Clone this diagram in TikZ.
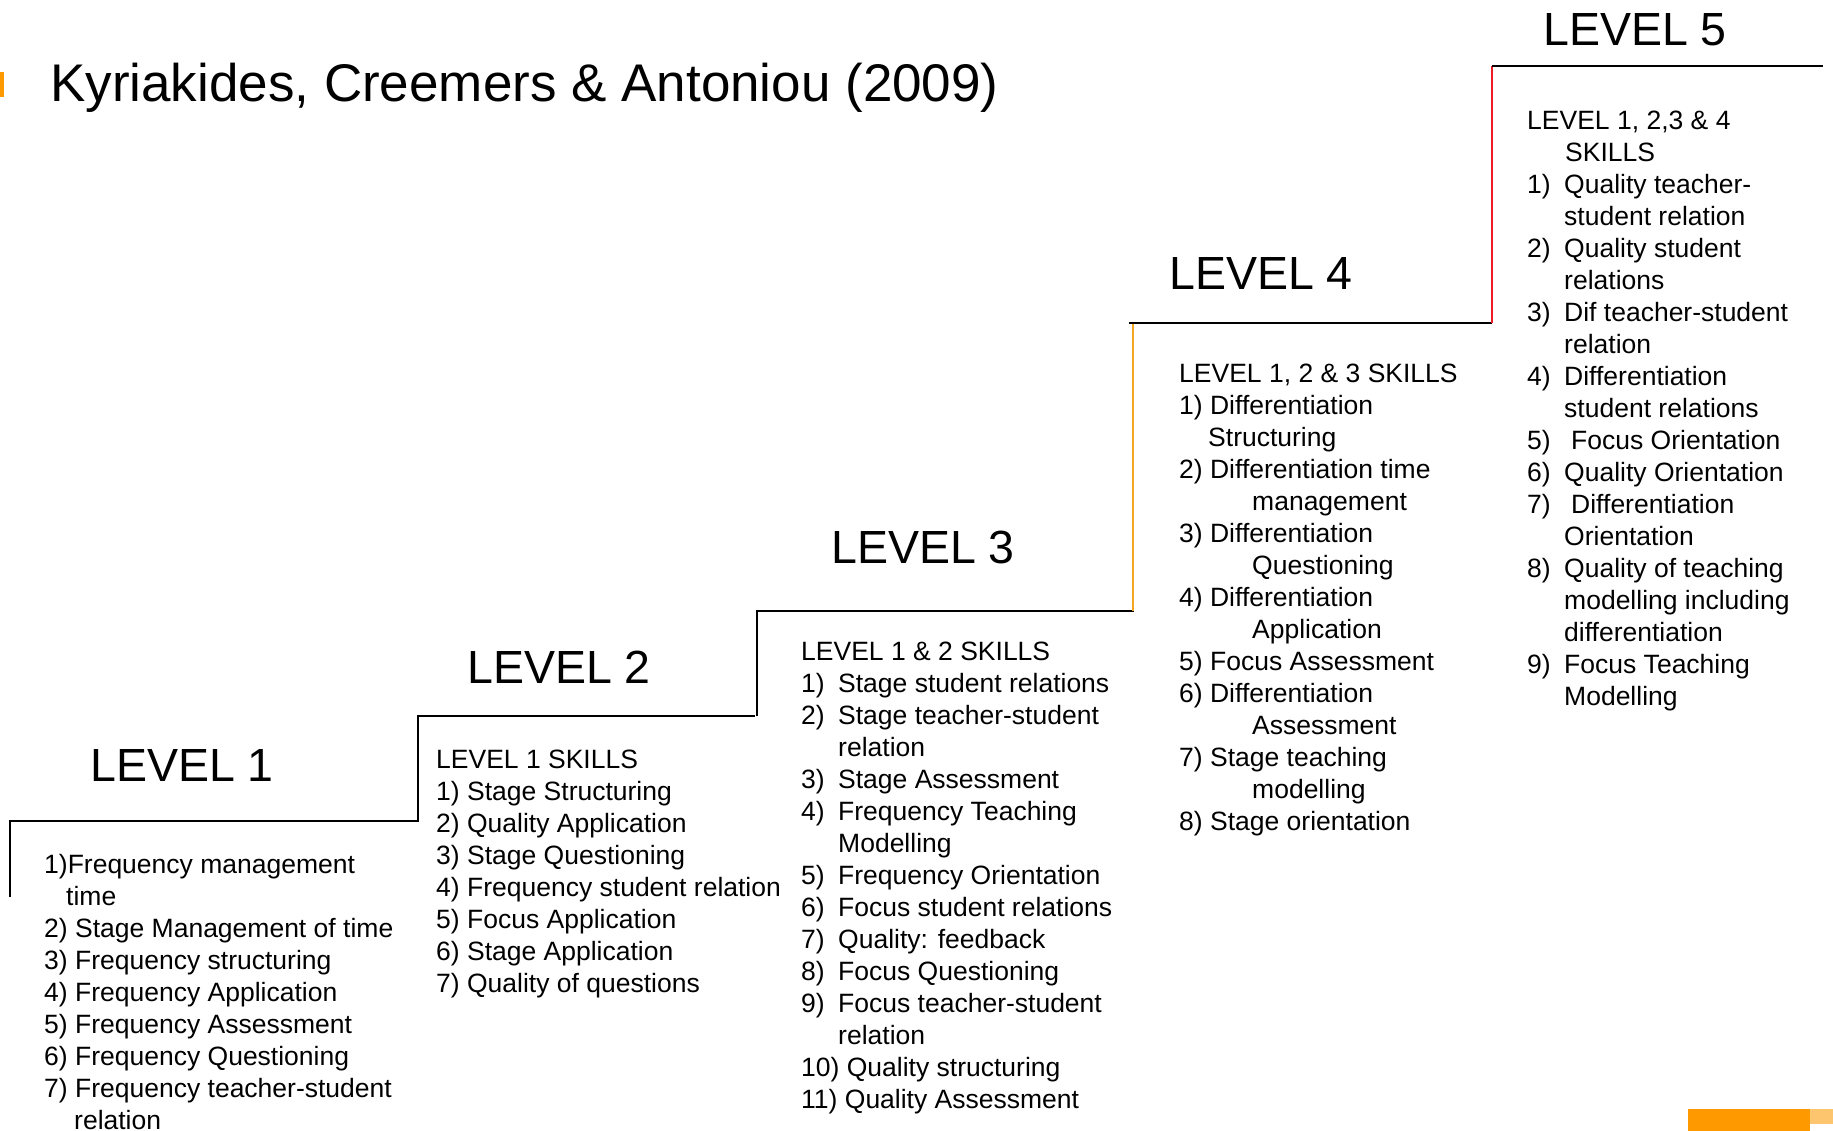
\documentclass[tikz,border=0pt]{standalone}
\usepackage{fontspec}
\setmainfont{Liberation Sans}
\definecolor{accent}{HTML}{FF9900}
\definecolor{accentlight}{HTML}{FDC66E}
\definecolor{riserorange}{HTML}{F5A623}
\definecolor{riserred}{HTML}{EE1C25}
\newcommand\numcol[2]{\hbox to #1{#2\hss}}
\newcommand\indline[2]{\hbox{\hskip #1 #2}}
\begin{document}
\begin{tikzpicture}[x=1pt,y=-1pt,
  title/.style={anchor=base west,inner sep=0pt,font=\fontsize{53}{60}\selectfont},
  levelhead/.style={anchor=base west,inner sep=0pt,font=\fontsize{46.5}{52}\selectfont},
  skilllist/.style={anchor=base west,inner sep=0pt,font=\fontsize{26.5}{32}\selectfont},
  stepline/.style={line width=2.4pt,black},
  riser/.style={line width=2.4pt}]
\useasboundingbox (0,0) rectangle (1833,1131);

% title and accents
\fill[accent] (0,72) rectangle (3.5,97);
\node[title] (title) at (50,101.5) {Kyriakides, Creemers \& Antoniou (2009)};
\fill[accent] (1688,1109) rectangle (1810,1131);
\fill[accentlight] (1810,1109) rectangle (1833,1124);

% staircase
\draw[stepline] (10,897) -- (10,821) -- (418,821) -- (418,716) -- (755,716);
\draw[stepline] (757,716) -- (757,611) -- (1134,611);
\draw[riser,riserorange] (1133,611) -- (1133,323);
\draw[stepline] (1129,323) -- (1492,323);
\draw[riser,riserred] (1492,323) -- (1492,66);
\draw[stepline] (1492,66) -- (1823,66);

% level headings
\node[levelhead] (h1) at (90,781) {LEVEL 1};
\node[levelhead] (h2) at (467,683) {LEVEL 2};
\node[levelhead] (h3) at (831,563) {LEVEL 3};
\node[levelhead] (h4) at (1169,290) {LEVEL 4};
\node[levelhead] (h5) at (1543,46) {LEVEL 5};

% level 1 list
\node[skilllist] (l1) at (44,873) {\vtop{%
  \hbox{1)Frequency management}
  \indline{22pt}{time}
  \hbox{2) Stage Management of time}
  \hbox{3) Frequency structuring}
  \hbox{4) Frequency Application}
  \hbox{5) Frequency Assessment}
  \hbox{6) Frequency Questioning}
  \hbox{7) Frequency teacher-student}
  \indline{30pt}{relation}}};

% level 2 list
\node[skilllist] (l2) at (436,768) {\vtop{%
  \hbox{LEVEL 1 SKILLS}
  \hbox{1) Stage Structuring}
  \hbox{2) Quality Application}
  \hbox{3) Stage Questioning}
  \hbox{4) Frequency student relation}
  \hbox{5) Focus Application}
  \hbox{6) Stage Application}
  \hbox{7) Quality of questions}}};

% level 3 list
\node[skilllist] (l3) at (801,660) {\vtop{%
  \hbox{LEVEL 1 \& 2 SKILLS}
  \hbox{\numcol{37pt}{1)}Stage student relations}
  \hbox{\numcol{37pt}{2)}Stage teacher-student}
  \indline{37pt}{relation}
  \hbox{\numcol{37pt}{3)}Stage Assessment}
  \hbox{\numcol{37pt}{4)}Frequency Teaching}
  \indline{37pt}{Modelling}
  \hbox{\numcol{37pt}{5)}Frequency Orientation}
  \hbox{\numcol{37pt}{6)}Focus student relations}
  \hbox{\numcol{37pt}{7)}Quality: feedback}
  \hbox{\numcol{37pt}{8)}Focus Questioning}
  \hbox{\numcol{37pt}{9)}Focus teacher-student}
  \indline{37pt}{relation}
  \hbox{10) Quality structuring}
  \hbox{11) Quality Assessment}}};

% level 4 list
\node[skilllist] (l4) at (1179,382) {\vtop{%
  \hbox{LEVEL 1, 2 \& 3 SKILLS}
  \hbox{1) Differentiation}
  \indline{29pt}{Structuring}
  \hbox{2) Differentiation time}
  \indline{73pt}{management}
  \hbox{3) Differentiation}
  \indline{73pt}{Questioning}
  \hbox{4) Differentiation}
  \indline{73pt}{Application}
  \hbox{5) Focus Assessment}
  \hbox{6) Differentiation}
  \indline{73pt}{Assessment}
  \hbox{7) Stage teaching}
  \indline{73pt}{modelling}
  \hbox{8) Stage orientation}}};

% level 5 list
\node[skilllist] (l5) at (1527,130) {\vtop{%
  \hbox{LEVEL 1, 2,3 \& 4}
  \indline{38pt}{SKILLS}
  \hbox{\numcol{37pt}{1)}Quality teacher-}
  \indline{37pt}{student relation}
  \hbox{\numcol{37pt}{2)}Quality student}
  \indline{37pt}{relations}
  \hbox{\numcol{37pt}{3)}Dif teacher-student}
  \indline{37pt}{relation}
  \hbox{\numcol{37pt}{4)}Differentiation}
  \indline{37pt}{student relations}
  \hbox{\numcol{44pt}{5)}Focus Orientation}
  \hbox{\numcol{37pt}{6)}Quality Orientation}
  \hbox{\numcol{44pt}{7)}Differentiation}
  \indline{37pt}{Orientation}
  \hbox{\numcol{37pt}{8)}Quality of teaching}
  \indline{37pt}{modelling including}
  \indline{37pt}{differentiation}
  \hbox{\numcol{37pt}{9)}Focus Teaching}
  \indline{37pt}{Modelling}}};
\end{tikzpicture}
\end{document}
